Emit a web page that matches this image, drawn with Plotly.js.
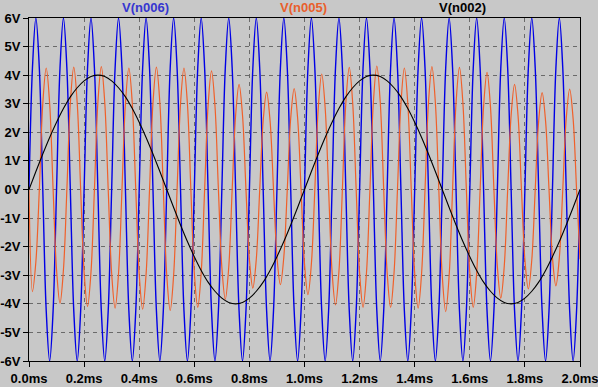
<!DOCTYPE html>
<html>
<head>
<meta charset="utf-8">
<script src="https://cdn.plot.ly/plotly-3.0.1.min.js"></script>
<style>
  html, body { margin: 0; padding: 0; background: #c8c8c8; }
  #chart { width: 598px; height: 387px; }
</style>
</head>
<body>
<div id="chart"></div>
<script>
// ---- data (time in ms, voltages in V) ----
const DT_FAST = 0.0125;   // sample step of the 10 kHz traces (ms)
const DT_SLOW = 0.025;    // sample step of the 1 kHz trace (ms)

const vN006 = [
  0,
  4.24, 6, 4.24, 0, -4.24, -6, -4.24, 0,
  4.24, 6, 4.24, 0, -4.24, -6, -4.24, 0,
  4.24, 6, 4.24, 0, -4.24, -6, -4.24, 0,
  4.24, 6, 4.24, 0, -4.24, -6, -4.24, 0,
  4.24, 6, 4.24, 0, -4.24, -6, -4.24, 0,
  4.24, 6, 4.24, 0, -4.24, -6, -4.24, 0,
  4.24, 6, 4.24, 0, -4.24, -6, -4.24, 0,
  4.24, 6, 4.24, 0, -4.24, -6, -4.24, 0,
  4.24, 6, 4.24, 0, -4.24, -6, -4.24, 0,
  4.24, 6, 4.24, 0, -4.24, -6, -4.24, 0,
  4.24, 6, 4.24, 0, -4.24, -6, -4.24, 0,
  4.24, 6, 4.24, 0, -4.24, -6, -4.24, 0,
  4.24, 6, 4.24, 0, -4.24, -6, -4.24, 0,
  4.24, 6, 4.24, 0, -4.24, -6, -4.24, 0,
  4.24, 6, 4.24, 0, -4.24, -6, -4.24, 0,
  4.24, 6, 4.24, 0, -4.24, -6, -4.24, 0,
  4.24, 6, 4.24, 0, -4.24, -6, -4.24, 0,
  4.24, 6, 4.24, 0, -4.24, -6, -4.24, 0,
  4.24, 6, 4.24, 0, -4.24, -6, -4.24, 0,
  4.24, 6, 4.24, 0, -4.24, -6, -4.24, 0
];

const vN005 = [
  0,
  -3.57, -2.52, 0, 3.00, 4.25, 3.00, 0, -2.81,
  -3.98, -2.81, 0, 3.03, 4.28, 3.03, 0, -2.89,
  -4.09, -2.89, 0, 3.04, 4.30, 3.04, 0, -2.93,
  -4.15, -2.93, 0, 3.00, 4.25, 3.00, 0, -2.96,
  -4.19, -2.96, 0, 3.03, 4.28, 3.03, 0, -2.99,
  -4.23, -2.99, 0, 3.00, 4.25, 3.00, 0, -2.91,
  -4.12, -2.91, 0, 2.93, 4.15, 2.93, 0, -2.72,
  -3.84, -2.72, 0, 2.60, 3.68, 2.60, 0, -2.44,
  -3.45, -2.44, 0, 2.41, 3.41, 2.41, 0, -2.35,
  -3.33, -2.35, 0, 2.50, 3.53, 2.50, 0, -2.60,
  -3.68, -2.60, 0, 2.86, 4.04, 2.86, 0, -2.86,
  -4.04, -2.86, 0, 3.02, 4.27, 3.02, 0, -2.91,
  -4.12, -2.91, 0, 3.05, 4.32, 3.05, 0, -2.91,
  -4.12, -2.91, 0, 3.00, 4.25, 3.00, 0, -2.93,
  -4.15, -2.93, 0, 3.04, 4.30, 3.04, 0, -3.02,
  -4.27, -3.02, 0, 3.02, 4.27, 3.02, 0, -2.91,
  -4.12, -2.91, 0, 2.90, 4.10, 2.90, 0, -2.69,
  -3.80, -2.69, 0, 2.60, 3.68, 2.60, 0, -2.46,
  -3.48, -2.46, 0, 2.40, 3.39, 2.40, 0, -2.38,
  -3.37, -2.38, 0, 2.48, 3.51, 2.48, 0, -2.44
];

const vN002 = [
  0, 0.63, 1.24, 1.82, 2.35, 2.83, 3.24, 3.56, 3.80, 3.95, 4.00,
  3.95, 3.80, 3.56, 3.24, 2.83, 2.35, 1.82, 1.24, 0.63, 0,
  -0.63, -1.24, -1.82, -2.35, -2.83, -3.24, -3.56, -3.80, -3.95, -4.00,
  -3.95, -3.80, -3.56, -3.24, -2.83, -2.35, -1.82, -1.24, -0.63, 0,
  0.63, 1.24, 1.82, 2.35, 2.83, 3.24, 3.56, 3.80, 3.95, 4.00,
  3.95, 3.80, 3.56, 3.24, 2.83, 2.35, 1.82, 1.24, 0.63, 0,
  -0.63, -1.24, -1.82, -2.35, -2.83, -3.24, -3.56, -3.80, -3.95, -4.00,
  -3.95, -3.80, -3.56, -3.24, -2.83, -2.35, -1.82, -1.24, -0.63, 0
];

const seriesNames = ["V(n006)", "V(n005)", "V(n002)"];
const xTickVals = [0, 0.2, 0.4, 0.6, 0.8, 1.0, 1.2, 1.4, 1.6, 1.8, 2.0];
const xTickText = ["0.0ms", "0.2ms", "0.4ms", "0.6ms", "0.8ms", "1.0ms", "1.2ms", "1.4ms", "1.6ms", "1.8ms", "2.0ms"];
const yTickVals = [6, 5, 4, 3, 2, 1, 0, -1, -2, -3, -4, -5, -6];
const yTickText = ["6V", "5V", "4V", "3V", "2V", "1V", "0V", "-1V", "-2V", "-3V", "-4V", "-5V", "-6V"];

// ---- sampling grids ----
const tFast = vN006.map((_, i) => +(i * DT_FAST).toFixed(4));
const tSlow = vN002.map((_, i) => +(i * DT_SLOW).toFixed(4));

const BG = "#c8c8c8";
const FONT = "Liberation Sans, Arial, sans-serif";
const lineColors = ["#0000e6", "#f0602a", "#000000"];
const labelColors = ["#3636d0", "#e8602c", "#000000"];

const traces = [
  { x: tFast, y: vN006, name: seriesNames[0], type: "scatter", mode: "lines",
    line: { color: lineColors[0], width: 1.4, shape: "spline", smoothing: 1 }, hoverinfo: "skip" },
  { x: tFast, y: vN005, name: seriesNames[1], type: "scatter", mode: "lines",
    line: { color: lineColors[1], width: 1.2, shape: "spline", smoothing: 1 }, hoverinfo: "skip" },
  { x: tSlow, y: vN002, name: seriesNames[2], type: "scatter", mode: "lines",
    line: { color: lineColors[2], width: 1.1, shape: "spline", smoothing: 1 }, hoverinfo: "skip" }
];

const labelX = [0.165, 0.499, 0.833];
const annotations = seriesNames.map((n, i) => ({
  text: n, xref: "paper", yref: "paper", x: labelX[i], y: 1, yanchor: "bottom",
  yshift: 1, showarrow: false,
  font: { family: FONT, size: 13, color: labelColors[i], weight: 700 }
}));

const axisCommon = {
  showline: true, linecolor: "#000", linewidth: 1, mirror: true,
  ticks: "outside", ticklen: 5, tickcolor: "#000", tickwidth: 1,
  showgrid: true, gridcolor: "#6a6a6a", gridwidth: 1, griddash: "4px,4px",
  zeroline: false, fixedrange: true, ticklabeloverflow: "allow",
  tickfont: { family: FONT, size: 13, color: "#000", weight: 700 }
};

const layout = {
  width: 598, height: 387,
  margin: { l: 29, r: 18, t: 18, b: 26, pad: 0 },
  paper_bgcolor: BG, plot_bgcolor: BG,
  showlegend: false,
  xaxis: Object.assign({}, axisCommon, {
    range: [0, 2.0], tickmode: "array", tickvals: xTickVals, ticktext: xTickText
  }),
  yaxis: Object.assign({}, axisCommon, {
    range: [-6, 6], tickmode: "array", tickvals: yTickVals, ticktext: yTickText
  }),
  annotations: annotations
};

Plotly.newPlot("chart", traces, layout, { staticPlot: true, displayModeBar: false });
</script>
</body>
</html>
